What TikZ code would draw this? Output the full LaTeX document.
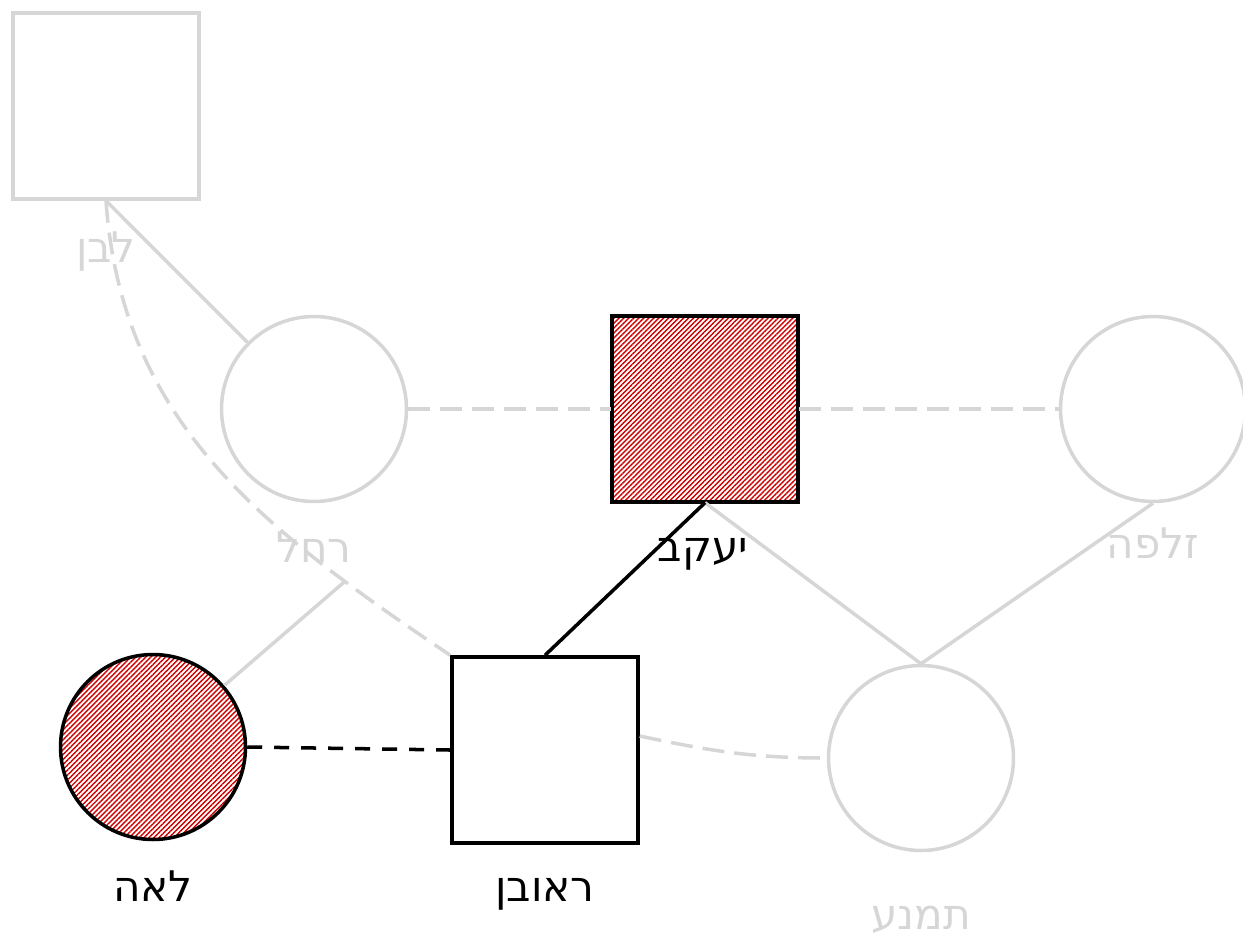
\documentclass[tikz,border=0pt]{standalone}
\usepackage{fontspec}
\usepackage{tikz}
\usetikzlibrary{patterns.meta}
\newfontfamily\hebfont[Script=Hebrew]{DejaVu Sans}
\TeXXeTstate=1
\definecolor{faded}{RGB}{214,214,214}
\definecolor{hatchred}{RGB}{205,0,0}

\begin{document}
\begin{tikzpicture}[x=0.02cm,y=-0.02cm]
		\useasboundingbox (0,0) rectangle (1243,937);
		\begin{scope}[line width=2pt, inner sep=0pt]
			\tikzstyle{male} = [rectangle,draw,minimum size=3.72cm]
			\tikzstyle{female} = [circle,draw,minimum size=3.7cm]
			\tikzstyle{marked} = [pattern={Lines[angle=45,distance=2pt,line width=0.8pt]},pattern color=hatchred]
			\node[male,faded] (L) at (106,106) {};
			\node[female,faded] (R) at (314,409) {};
			\node[male,marked] (J) at (705,409) {};
			\node[female,faded] (Z) at (1153,409) {};
			\node[female,marked] (LE) at (153,747) {};
			\node[male] (RE) at (545,750) {};
			\node[female,faded] (T) at (921,758) {};
		\end{scope}
		
		\begin{scope}[every node/.style={anchor=base,inner sep=0pt,font=\hebfont\fontsize{24}{28}\selectfont}]
			\node[text=faded] (Ln) at (106,262) {\beginR לבן\endR};
			\node[text=faded] (Rn) at (314,562) {\beginR רחל\endR};
			\node (Jn) at (703,561) {\beginR יעקב\endR};
			\node[text=faded] (Zn) at (1153,558) {\beginR זלפה\endR};
			\node (LEn) at (153,901) {\beginR לאה\endR};
			\node (REn) at (545,901) {\beginR ראובן\endR};
			\node[text=faded] (Tn) at (921,929) {\beginR תמנע\endR};
		\end{scope}
		
		\tikzstyle{tie} = [line width=2pt,color=faded]
		\draw [tie] (L.south) -- (R);
		\draw [tie] (J.south) -- (T.north);
		\draw [tie] (Z.south) -- (T.north);
		\draw [tie,dash pattern=on 0.44cm off 0.2cm] (R.east) -- (J.west);
		\draw [tie,dash pattern=on 0.44cm off 0.2cm] (J.east) -- (Z.west);
		\draw [tie,dash pattern=on 0.44cm off 0.2cm] (L.south) to[out=-86,in=146]
			coordinate[pos=0.8] (LR) (RE.north west);
		\draw [tie] (LR) -- (LE);
		\draw [tie,dash pattern=on 0.44cm off 0.2cm] (RE.east) ++(0,-14) coordinate (REt)
			to[out=-12,in=180] (T.west);
		
		\tikzstyle{tie} = [line width=2pt,color=black]
		\draw [tie] (J.south) -- (RE.north);
		\draw [tie,dash pattern=on 0.3cm off 0.24cm] (LE.east) -- (RE.west);
		
	\end{tikzpicture}
\end{document}
